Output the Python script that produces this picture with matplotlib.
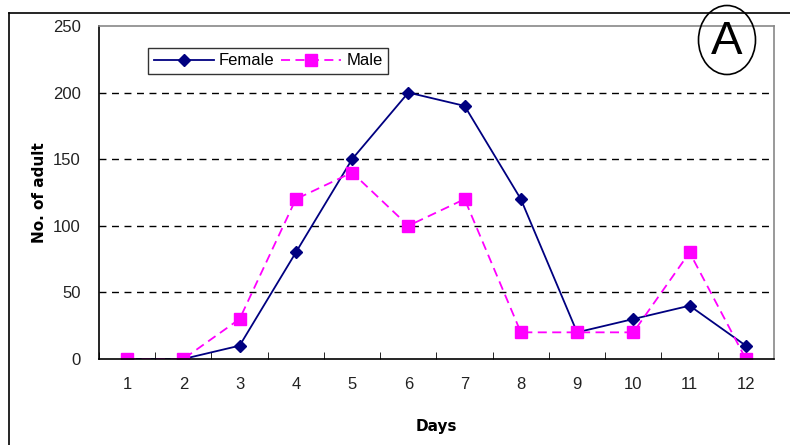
import matplotlib.pyplot as plt
from matplotlib.lines import Line2D
from matplotlib.patches import Ellipse

days = list(range(1, 13))
female = [0, 0, 10, 80, 150, 200, 190, 120, 20, 30, 40, 10]
male = [0, 0, 30, 120, 140, 100, 120, 20, 20, 20, 80, 0]
yticks = [0, 50, 100, 150, 200, 250]

plt.rcParams['font.family'] = ['Liberation Sans', 'DejaVu Sans']

fig = plt.figure(figsize=(7.9, 4.45), dpi=100)
ax = fig.add_axes([0.1253, 0.1933, 0.8544, 0.7483])

ax.plot(days, female, color='#000080', marker='D', markersize=6, lw=1.3, label='Female')
ax.plot(days, male, color='#ff00ff', marker='s', markersize=8, lw=1.3, ls=(0, (5, 3)), label='Male')

ax.set_xlim(0.5, 12.5)
ax.set_ylim(0, 250)
ax.set_yticks(yticks)
ax.set_xticks(days)
ax.set_xticks([d + 0.5 for d in range(0, 12)], minor=True)
ax.tick_params(axis='x', which='major', length=0, pad=13, labelsize=12, colors='#222222')
ax.tick_params(axis='x', which='minor', length=5, direction='in', color='black')
ax.tick_params(axis='y', length=0, pad=13, labelsize=12, colors='#222222')
for y in yticks[1:-1]:
    ax.axhline(y, color='black', lw=1, ls=(0, (5, 4)), zorder=0)

ax.spines['top'].set_color('#888888')
ax.spines['right'].set_color('#888888')
ax.spines['left'].set_color('black')
ax.spines['bottom'].set_color('black')
for s in ax.spines.values():
    s.set_linewidth(1.2)

ax.set_xlabel('Days', fontsize=11, fontweight='bold', family='DejaVu Sans')
ax.set_ylabel('No. of adult', fontsize=11, fontweight='bold', family='DejaVu Sans')
ax.xaxis.set_label_coords(0.5, -0.18)
ax.yaxis.set_label_coords(-0.077, 0.5)

leg = ax.legend(loc='upper left', bbox_to_anchor=(0.073, 0.935), ncol=2, fontsize=12,
                frameon=True, fancybox=False, edgecolor='black', handlelength=3.6,
                columnspacing=0.4, handletextpad=0.3, borderpad=0.35, borderaxespad=0)
leg.get_frame().set_linewidth(1)

# outer frame
fig.add_artist(Line2D([0.011, 1.0], [0.971, 0.971], color='black', lw=1.2))
fig.add_artist(Line2D([0.0114, 0.0114], [0, 0.971], color='black', lw=1.2))

# panel label
fig.add_artist(Ellipse((727 / 790, 1 - 40 / 445), 57 / 790, 69 / 445,
                       fill=False, edgecolor='black', lw=1.2, transform=fig.transFigure))
fig.text(727 / 790, 1 - 42 / 445, 'A', fontsize=34, ha='center', va='center')

fig.savefig('out.png', dpi=100)
